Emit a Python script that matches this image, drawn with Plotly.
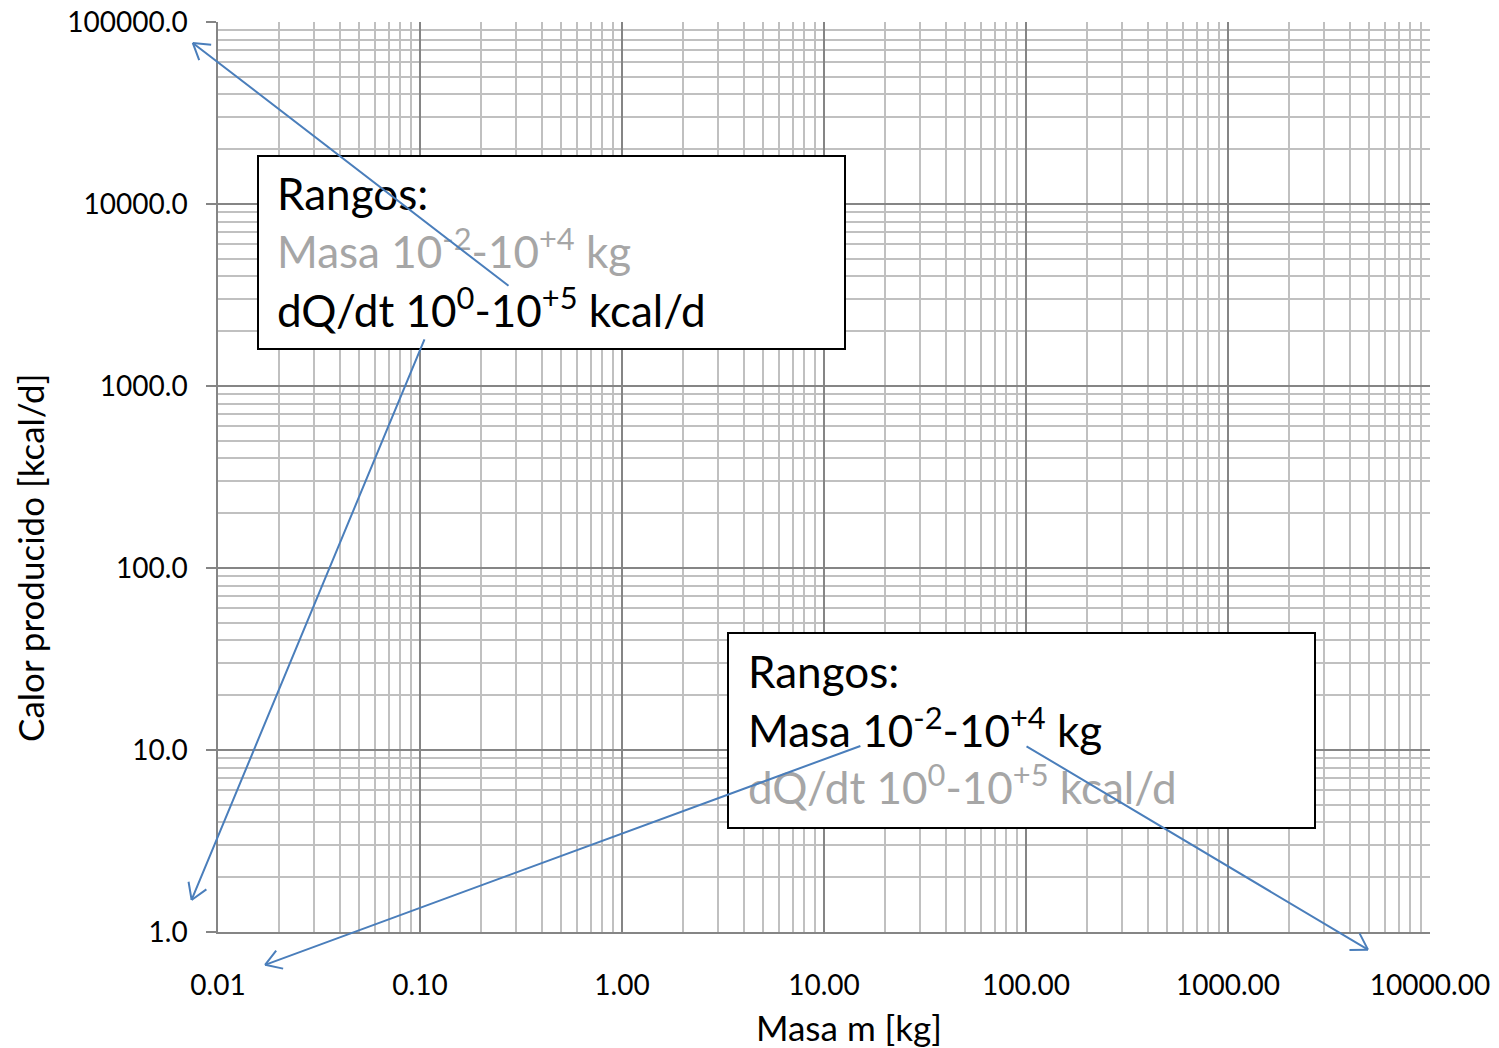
import math
import plotly.graph_objects as go

# ---------------- data ----------------
x_tick_vals = [0.01, 0.1, 1, 10, 100, 1000, 10000]
x_tick_text = ["0.01", "0.10", "1.00", "10.00", "100.00", "1000.00", "10000.00"]
y_tick_vals = [1, 10, 100, 1000, 10000, 100000]
y_tick_text = ["1.0", "10.0", "100.0", "1000.0", "10000.0", "100000.0"]

x_title = "Masa m [kg]"
y_title = "Calor producido [kcal/d]"

box1_lines = ["Rangos:",
              "Masa 10<sup>-2</sup>-10<sup>+4</sup> kg",
              "dQ/dt 10<sup>0</sup>-10<sup>+5</sup> kcal/d"]
box2_lines = list(box1_lines)

# arrows in data units (mass kg, heat kcal/d): tail -> head
arrow_tail_mass = [0.279, 0.106, 15.4, 98.9]
arrow_tail_heat = [3500, 1840, 10.6, 10.6]
arrow_head_mass = [0.0075, 0.0074, 0.0171, 4930]
arrow_head_heat = [76700, 1.5, 0.66, 0.80]

# ---------------- layout constants ----------------
W, H = 1499, 1048
ML, MR, MT, MB = 218, 69, 22, 116
PW, PH = W - ML - MR, H - MT - MB
XR = [-2, 4]
YR = [0, 5]
FONT = "Lato"
MAJOR = "#858585"
MINOR = "#c0c0c0"
BLUE = "#4a7ebb"
GRAYTXT = "#a6a6a6"
BOXFONT = 44
TICKFONT = 28


def px_x(px):
    return (px - ML) / PW


def px_y(py):
    return (MT + PH - py) / PH


def data_to_paper(m, q):
    return ((math.log10(m) - XR[0]) / (XR[1] - XR[0]),
            (math.log10(q) - YR[0]) / (YR[1] - YR[0]))


x_minor = [m * 10 ** k for k in range(-2, 4) for m in range(2, 10)]
y_minor = [m * 10 ** k for k in range(0, 5) for m in range(2, 10)]

fig = go.Figure()
fig.add_trace(go.Scatter(x=[0.01, 10000], y=[1, 100000], mode="markers",
                         marker=dict(opacity=0), hoverinfo="skip", showlegend=False))

fig.update_layout(
    width=W, height=H,
    margin=dict(l=ML, r=MR, t=MT, b=MB, pad=0, autoexpand=False),
    paper_bgcolor="white", plot_bgcolor="white",
    font=dict(family=FONT, color="black", size=TICKFONT),
    showlegend=False,
)
fig.update_xaxes(
    type="log", range=XR, tickvals=x_tick_vals, ticktext=x_tick_text,
    showgrid=True, gridcolor=MAJOR, gridwidth=1.5,
    showline=True, linecolor=MAJOR, linewidth=1.5,
    ticks="", ticklabelstandoff=28, zeroline=False, automargin=False,
    tickfont=dict(family=FONT, size=TICKFONT, color="black"),
    minor=dict(tickvals=x_minor, showgrid=True, gridcolor=MINOR, gridwidth=1.5, ticks=""),
)
fig.update_yaxes(
    type="log", range=YR, tickvals=y_tick_vals, ticktext=y_tick_text,
    showgrid=True, gridcolor=MAJOR, gridwidth=1.5,
    showline=True, linecolor=MAJOR, linewidth=1.5,
    ticks="outside", ticklen=10, tickcolor=MAJOR, tickwidth=1.5,
    ticklabelstandoff=13, zeroline=False, automargin=False,
    tickfont=dict(family=FONT, size=TICKFONT, color="black"),
    minor=dict(tickvals=y_minor, showgrid=True, gridcolor=MINOR, gridwidth=1.5, ticks=""),
)

annotations = []
shapes = []

# axis titles
annotations.append(dict(text=x_title, xref="paper", yref="paper",
                        x=px_x(849), y=px_y(1027), xanchor="center", yanchor="middle",
                        showarrow=False, font=dict(family=FONT, size=35, color="black")))
annotations.append(dict(text=y_title, xref="paper", yref="paper", textangle=-90,
                        x=px_x(30), y=px_y(558), xanchor="center", yanchor="middle",
                        showarrow=False, font=dict(family=FONT, size=35, color="black")))

# boxes
for (x0, y0, x1, y1) in [(258, 156, 845, 349), (728, 633, 1315, 828)]:
    shapes.append(dict(type="rect", xref="paper", yref="paper",
                       x0=px_x(x0), x1=px_x(x1), y0=px_y(y1), y1=px_y(y0),
                       fillcolor="white", line=dict(color="black", width=2), layer="above"))

box_specs = [
    (box1_lines, ["black", GRAYTXT, "black"], 275, [193, 248, 307]),
    (box2_lines, ["black", "black", GRAYTXT], 746, [671, 727, 784]),
]
for lines, colors, tx, tys in box_specs:
    for line, col, ty in zip(lines, colors, tys):
        annotations.append(dict(text=line, xref="paper", yref="paper",
                                x=px_x(tx), y=px_y(ty), xanchor="left", yanchor="middle",
                                showarrow=False, font=dict(family=FONT, size=BOXFONT, color=col)))

# arrows (shaft + open chevron head)
WING = 20
ANG = math.radians(32)
for tm, tq, hm, hq in zip(arrow_tail_mass, arrow_tail_heat, arrow_head_mass, arrow_head_heat):
    hx, hy = data_to_paper(hm, hq)
    tx, ty = data_to_paper(tm, tq)
    dx = (tx - hx) * PW
    dy = -(ty - hy) * PH
    L = math.hypot(dx, dy)
    ux, uy = dx / L, dy / L
    annotations.append(dict(x=hx, y=hy, xref="paper", yref="paper", text="",
                            showarrow=True, arrowhead=0, arrowwidth=2, arrowcolor=BLUE,
                            axref="pixel", ayref="pixel", ax=dx, ay=dy, standoff=0, startstandoff=0))
    for s in (1, -1):
        c, sn = math.cos(s * ANG), math.sin(s * ANG)
        wx = (ux * c - uy * sn) * WING
        wy = (ux * sn + uy * c) * WING
        annotations.append(dict(x=hx, y=hy, xref="paper", yref="paper", text="",
                                showarrow=True, arrowhead=0, arrowwidth=2, arrowcolor=BLUE,
                                axref="pixel", ayref="pixel", ax=wx, ay=wy, standoff=0, startstandoff=0))

fig.update_layout(annotations=annotations, shapes=shapes)
fig.write_html("out.html")
